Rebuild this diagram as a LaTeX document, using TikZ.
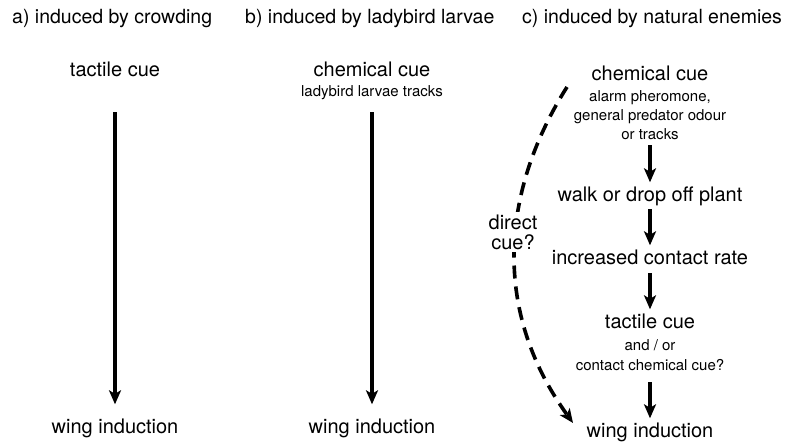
\documentclass[tikz,border=0pt]{standalone}
\usepackage{fontspec}
\setmainfont{TeX Gyre Heros}
\usetikzlibrary{arrows.meta}
\tikzset{
  main/.style={font=\fontsize{20}{22}\selectfont, inner sep=0pt, text height=14.5pt, text depth=4pt, anchor=base},
  small/.style={font=\fontsize{15}{17}\selectfont, inner sep=0pt, text height=11pt, text depth=3pt, anchor=base},
  head/.style={font=\fontsize{19.5}{22}\selectfont, inner sep=0pt, anchor=base west},
  arr/.style={line width=3.6pt, -{Stealth[length=14pt,width=12pt,inset=3.5pt]}},
  dasharr/.style={line width=3.6pt, dash pattern=on 13pt off 8pt, -{Stealth[length=14pt,width=12pt,inset=3.5pt]}}
}
\begin{document}
\begin{tikzpicture}[x=1pt,y=-1pt]
\useasboundingbox (0,0) rectangle (797,443);
% headers
\node[head] (ha) at (12,24) {a) induced by crowding};
\node[head] (hb) at (245,24) {b) induced by ladybird larvae};
\node[head] (hc) at (522,24) {c) induced by natural enemies};
% column a
\node[main] (ta) at (115,77) {tactile cue};
\node[main] (wa) at (115,433) {wing induction};
\draw[arr] ([yshift=-31pt]ta.south) -- ([yshift=14pt]wa.north);
% column b
\node[main] (cb) at (372,77) {chemical cue};
\node[small] (lb) at (372,97) {ladybird larvae tracks};
\node[main] (wb) at (372,433) {wing induction};
\draw[arr] ([yshift=-12pt]lb.south) -- ([yshift=14pt]wb.north);
% column c
\node[main] (cc) at (650,81) {chemical cue};
\node[small] (al) at (650,102) {alarm pheromone,};
\node[small] (gp) at (650,121) {general predator odour};
\node[small] (ot) at (650,140) {or tracks};
\node[main] (wk) at (650,202) {walk or drop off plant};
\node[main] (ic) at (650,265) {increased contact rate};
\node[main] (tc) at (650,328) {tactile cue};
\node[small] (ao) at (650,350) {and / or};
\node[small] (cq) at (650,370) {contact chemical cue?};
\node[main] (wc) at (650,437) {wing induction};
\draw[arr] ([yshift=-2pt]ot.south) -- ([yshift=5pt]wk.north);
\draw[arr] ([yshift=-3pt]wk.south) -- ([yshift=5pt]ic.north);
\draw[arr] ([yshift=-4pt]ic.south) -- ([yshift=4pt]tc.north);
\draw[arr] ([yshift=-9pt]cq.south) -- ([yshift=4pt]wc.north);
% direct cue
\coordinate (d0) at (567,87);
\coordinate (d1) at (573,423);
\draw[dasharr] (d0) .. controls (505,185) and (488,305) .. (d1);
\node[main, anchor=center, fill=white, inner sep=3pt, align=center, text height=, text depth=] (dc) at (513,232) {direct\\[-2pt]cue?};
\end{tikzpicture}
\end{document}
